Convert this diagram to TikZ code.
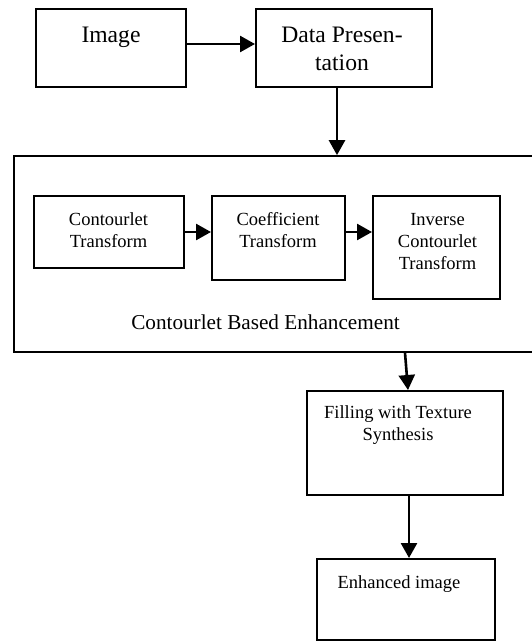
\documentclass[tikz,border=0pt]{standalone}
\usepackage{fontspec}
\setmainfont{Liberation Serif}
\usetikzlibrary{arrows.meta}
\begin{document}
\begin{tikzpicture}[x=1pt,y=-1pt,
  box/.style={draw, line width=2pt, inner sep=0pt},
  frame/.style={draw, line width=1.7pt, inner sep=0pt},
  arr/.style={line width=2.6pt, -{Triangle[length=15pt,width=16pt]}},
  bigtext/.style={font=\fontsize{23.6}{28}\selectfont, align=center, inner sep=0pt},
  midtext/.style={font=\fontsize{21.2}{25}\selectfont, inner sep=0pt},
  smalltext/.style={font=\fontsize{18.5}{22}\selectfont, align=center, inner sep=0pt}]
\useasboundingbox (0,0) rectangle (531,642);
% boxes
\node[box, minimum width=150pt, minimum height=78pt] (img) at (111,48) {};
\node[box, minimum width=176pt, minimum height=78pt] (data) at (344,48) {};
\node[frame, minimum width=526pt, minimum height=196pt] (big) at (277,254) {};
\node[box, minimum width=150pt, minimum height=72pt] (c1) at (109,232) {};
\node[box, minimum width=133pt, minimum height=84pt] (c2) at (278.5,238) {};
\node[box, minimum width=127pt, minimum height=103pt] (c3) at (436.5,247.5) {};
\node[box, minimum width=196pt, minimum height=104pt] (fill) at (405,443) {};
\node[box, minimum width=178pt, minimum height=81pt] (enh) at (406,599.5) {};
% texts
\node[bigtext, anchor=north] (timg) at (111,26.4) {Image};
\node[bigtext, anchor=north] (tdata) at (342,26.4) {Data Presen-\\tation};
\node[smalltext, anchor=north] (tc1) at (108.5,212.4) {Contourlet\\Transform};
\node[smalltext, anchor=north] (tc2) at (278,212.4) {Coefficient\\Transform};
\node[smalltext, anchor=north] (tc3) at (437.5,212.8) {Inverse\\Contourlet\\Transform};
\node[midtext, anchor=base] (tbig) at (265.5,329) {Contourlet Based Enhancement};
\node[smalltext, anchor=north] (tfill) at (398,405.4) {Filling with Texture\\Synthesis};
\node[smalltext, anchor=base] (tenh) at (399,588) {Enhanced image};
% arrows
\draw[arr] ([yshift=4pt]img.east) -- ([yshift=4pt]data.west);
\draw[arr] ([xshift=-7pt]data.south) -- ([xshift=-7pt]data.south |- big.north);
\draw[arr] (c1.east) -- (c1.east -| c2.west);
\draw[arr] (c1.east -| c2.east) -- (c1.east -| c3.west);
\draw[arr] (big.south -| fill.north) -- ([xshift=3pt]fill.north);
\draw[arr] ([xshift=4pt]fill.south) -- ([xshift=4pt]fill.south |- enh.north);
\end{tikzpicture}
\end{document}
